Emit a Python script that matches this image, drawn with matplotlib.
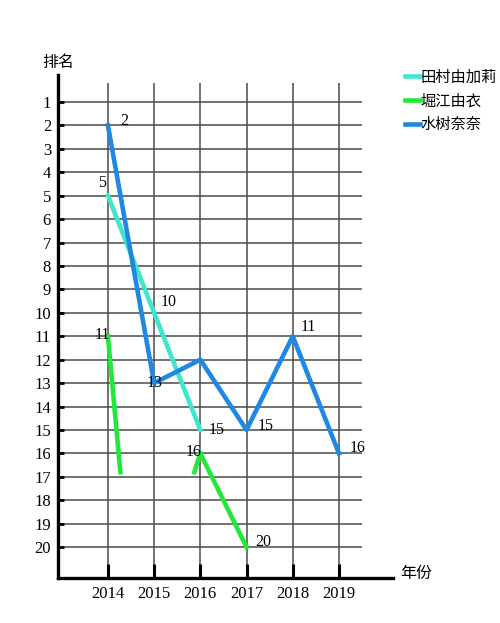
import matplotlib
matplotlib.use("Agg")
import matplotlib.pyplot as plt
import numpy as np

plt.rcParams['font.family'] = ['Liberation Serif', 'Noto Sans CJK SC', 'DejaVu Sans']

years = [2014, 2015, 2016, 2017, 2018, 2019]
ranks = list(range(1, 21))

series_names = ["田村由加莉", "堀江由衣", "水树奈奈"]
colors = ["#3EE6CC", "#22E83A", "#1E88E3"]

tamura_years = [2014, 2015, 2016]
tamura_ranks = [5, 10, 15]

horie_years = [2016, 2017]
horie_ranks = [16, 20]
horie_first_year = [2014]
horie_first_rank = [11]
# broken stub segments as drawn in the picture
horie_stub_x = [[2014, 2014.27], [2016, 2015.87]]
horie_stub_y = [[11, 16.8], [16, 16.8]]

mizuki_years = [2014, 2015, 2016, 2017, 2018, 2019]
mizuki_ranks = [2, 13, 12, 15, 11, 16]

fig = plt.figure(figsize=(5.0, 6.23), dpi=100)
ax = fig.add_axes([0.116, 0.0722, 0.67, 0.8074])

ax.set_xlim(2012.92, 2020.17)
ax.set_ylim(21.32, -0.15)

# grid
grid_c = "#4a4a4a"
for r in ranks:
    ax.plot([2012.92, 2019.5], [r, r], color=grid_c, lw=1.1, zorder=1, solid_capstyle='butt')
for y in years:
    ax.plot([y, y], [0.19, 21.32], color=grid_c, lw=1.1, zorder=1, solid_capstyle='butt')

# lines
lw = 3.3
ax.plot(tamura_years, tamura_ranks, color=colors[0], lw=lw, zorder=3, label=series_names[0])
ax.plot(horie_years, horie_ranks, color=colors[1], lw=lw, zorder=3, label=series_names[1])
for sx, sy in zip(horie_stub_x, horie_stub_y):
    ax.plot(sx, sy, color=colors[1], lw=lw, zorder=3)
ax.plot(mizuki_years, mizuki_ranks, color=colors[2], lw=lw, zorder=4, label=series_names[2])

# value labels
fs = 11.5
ax.annotate(str(tamura_ranks[0]), (tamura_years[0], tamura_ranks[0]), xytext=(-4, 3), textcoords='offset points', fontsize=fs, ha='center', va='bottom', zorder=5)
ax.annotate(str(tamura_ranks[1]), (tamura_years[1], tamura_ranks[1]), xytext=(5, 8), textcoords='offset points', fontsize=fs, ha='left', va='center', zorder=5)
ax.annotate(str(tamura_ranks[2]), (tamura_years[2], tamura_ranks[2]), xytext=(6, 0), textcoords='offset points', fontsize=fs, ha='left', va='center', zorder=5)

ax.annotate(str(horie_first_rank[0]), (horie_first_year[0], horie_first_rank[0]), xytext=(-4, 1), textcoords='offset points', fontsize=fs, ha='center', va='center', zorder=5)
ax.annotate(str(horie_ranks[0]), (horie_years[0], horie_ranks[0]), xytext=(-5, 1), textcoords='offset points', fontsize=fs, ha='center', va='center', zorder=5)
ax.annotate(str(horie_ranks[1]), (horie_years[1], horie_ranks[1]), xytext=(6, 4), textcoords='offset points', fontsize=fs, ha='left', va='center', zorder=5)

mz_off = [(9, 3, 'left'), (0, 0, 'center'), None, (8, 3, 'left'), (6, 7, 'left'), (8, 4, 'left')]
for x, r, o in zip(mizuki_years, mizuki_ranks, mz_off):
    if o is None:
        continue
    ax.annotate(str(r), (x, r), xytext=(o[0], o[1]), textcoords='offset points', fontsize=fs, ha=o[2], va='center', zorder=5)

# axes styling
for s in ['top', 'right']:
    ax.spines[s].set_visible(False)
ax.spines['left'].set_linewidth(2.4)
ax.spines['bottom'].set_linewidth(2.4)

ax.set_yticks(ranks)
ax.set_yticklabels([str(r) for r in ranks], fontsize=12)
ax.set_xticks(years)
ax.set_xticklabels([str(y) for y in years], fontsize=12)
ax.tick_params(axis='y', direction='in', length=4, width=2, pad=5, colors='black')
ax.tick_params(axis='x', direction='in', length=10, width=2.2, pad=6, colors='black')

fig.text(0.084, 0.900, "排名", fontsize=11.5, family=['Noto Sans CJK SC'], ha='left', va='center')
fig.text(0.800, 0.080, "年份", fontsize=11.5, family=['Noto Sans CJK SC'], ha='left', va='center')

leg = fig.legend(loc='upper left', bbox_to_anchor=(0.782, 0.912), frameon=False,
                 handlelength=1.0, handletextpad=0.05, labelspacing=0.45,
                 prop={'family': ['Noto Sans CJK SC'], 'size': 11})

fig.savefig("out.png", dpi=100)
